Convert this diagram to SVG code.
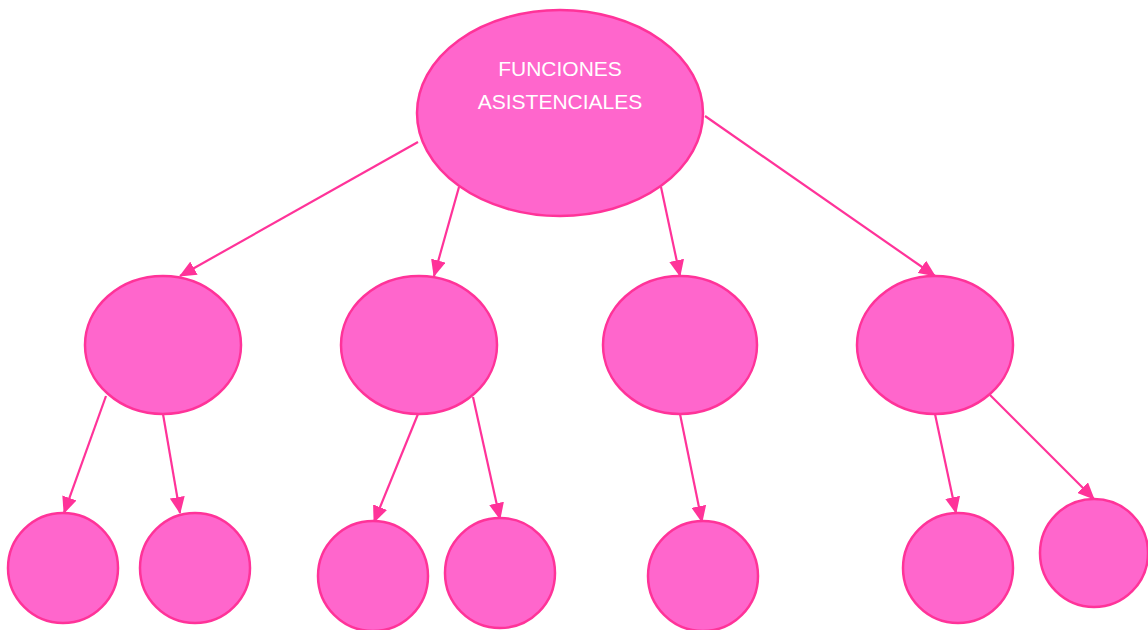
<svg xmlns="http://www.w3.org/2000/svg" width="1148" height="630" viewBox="0 0 1148 630">
<defs>
<style>
.n{fill:#FF66CC;stroke:#FF3399;stroke-width:2.5}
.c line{stroke:#FF3399;stroke-width:2.2;marker-end:url(#ah)}
.t{font-family:"Liberation Sans",Arial,sans-serif;font-size:21px;fill:#FFFFFF;text-anchor:middle}
</style>
<marker id="ah" markerUnits="userSpaceOnUse" markerWidth="17" markerHeight="15" refX="16" refY="7.5" orient="auto" viewBox="0 0 17 15">
<path d="M0,0 L17,7.5 L0,15 Z" fill="#FF3399"/>
</marker>
</defs>
<rect width="1148" height="630" fill="#FFFFFF"/>
<g id="connectors" class="c">
<line x1="418" y1="142" x2="180" y2="276"/>
<line x1="459" y1="187" x2="434" y2="276"/>
<line x1="661" y1="187" x2="680" y2="276"/>
<line x1="705" y1="116" x2="935" y2="276"/>
<line x1="106" y1="396" x2="64" y2="513"/>
<line x1="163" y1="414" x2="180" y2="513"/>
<line x1="418" y1="414" x2="374" y2="522"/>
<line x1="473" y1="397" x2="500" y2="519"/>
<line x1="680" y1="414" x2="702" y2="522"/>
<line x1="935" y1="414" x2="956" y2="513"/>
<line x1="990" y1="395" x2="1094" y2="499"/>
</g>
<g id="root"><ellipse class="n" cx="560" cy="113" rx="143" ry="103"/>
<text class="t" x="560" y="76">FUNCIONES</text>
<text class="t" x="560" y="109">ASISTENCIALES</text></g>
<g id="m1"><ellipse class="n" cx="163" cy="345" rx="78" ry="69"/></g>
<g id="m2"><ellipse class="n" cx="419" cy="345" rx="78" ry="69"/></g>
<g id="m3"><ellipse class="n" cx="680" cy="345" rx="77" ry="69"/></g>
<g id="m4"><ellipse class="n" cx="935" cy="345" rx="78" ry="69"/></g>
<g id="b1"><circle class="n" cx="63" cy="568" r="55"/></g>
<g id="b2"><circle class="n" cx="195" cy="568" r="55"/></g>
<g id="b3"><circle class="n" cx="373" cy="576" r="55"/></g>
<g id="b4"><circle class="n" cx="500" cy="573" r="55"/></g>
<g id="b5"><circle class="n" cx="703" cy="576" r="55"/></g>
<g id="b6"><circle class="n" cx="958" cy="568" r="55"/></g>
<g id="b7"><circle class="n" cx="1094" cy="553" r="54"/></g>
</svg>
